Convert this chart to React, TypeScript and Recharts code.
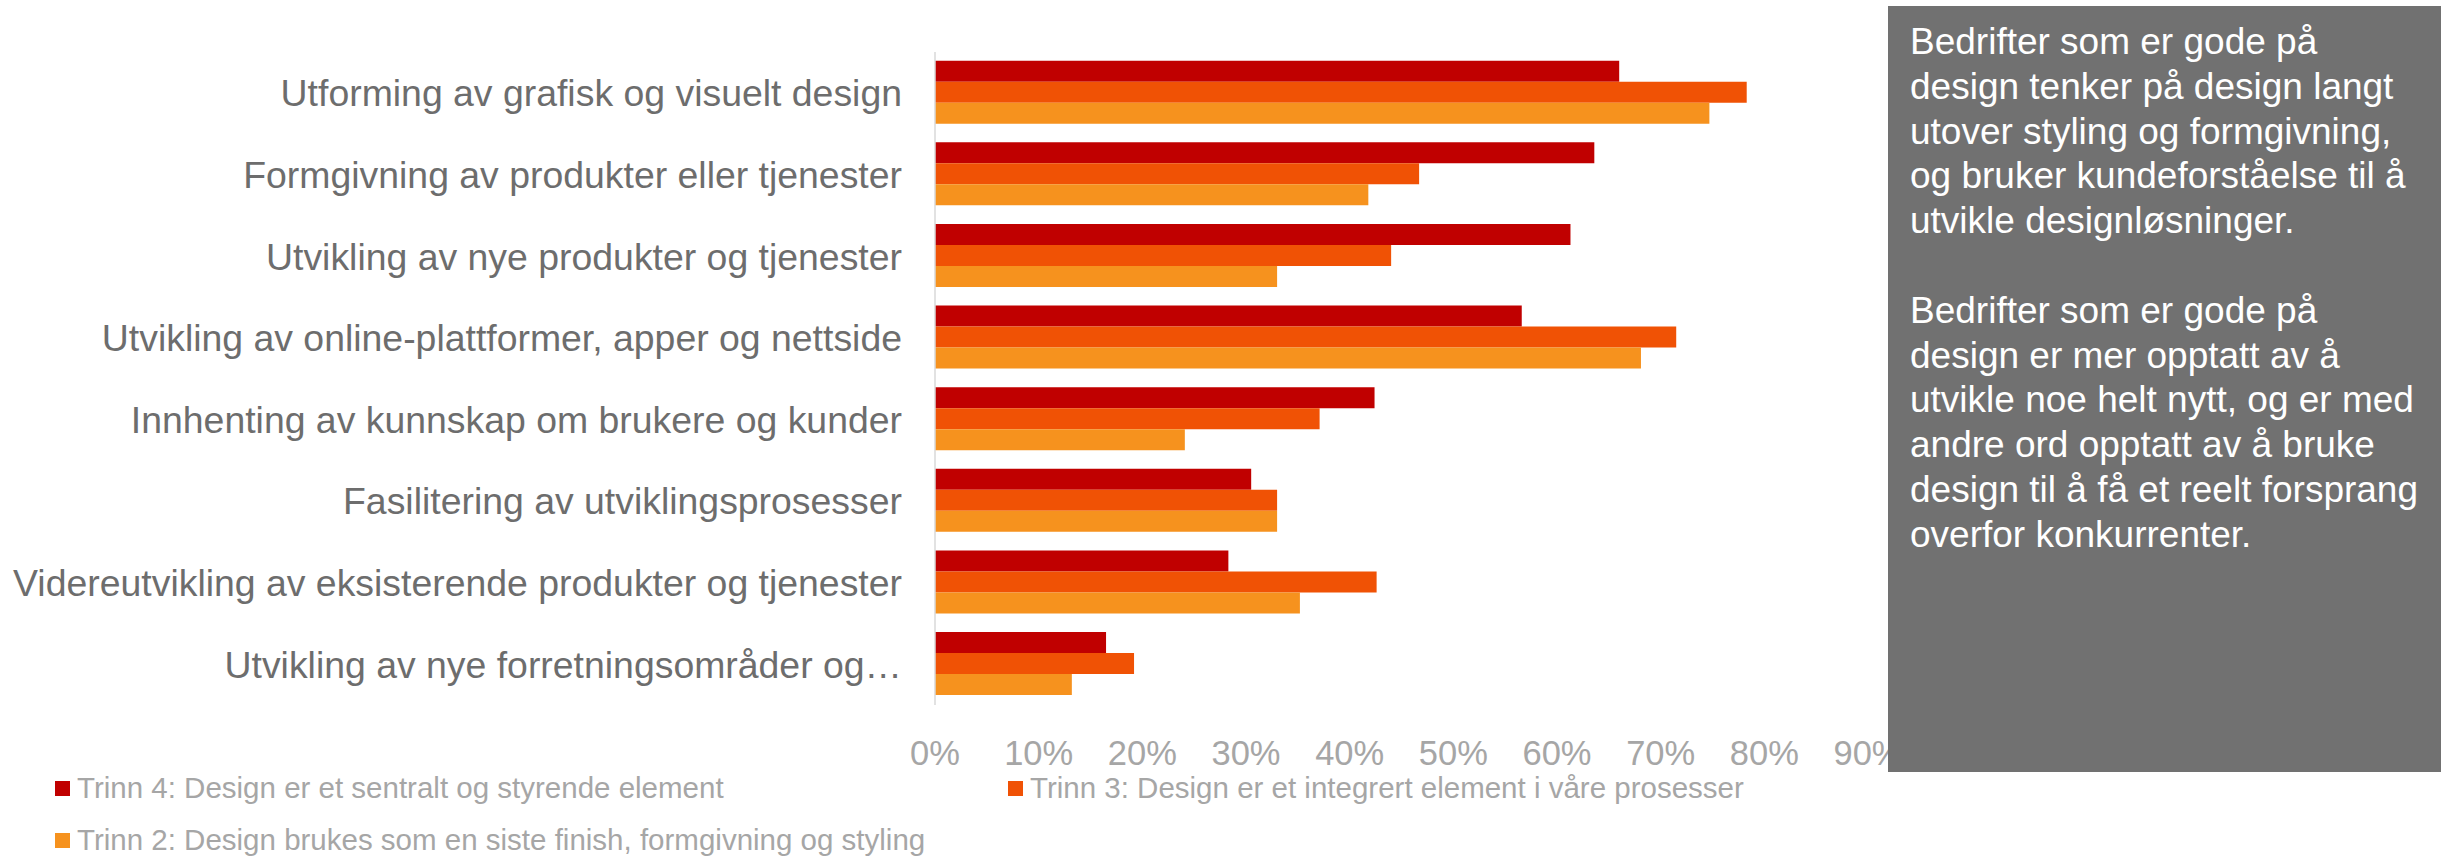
import React from "react";
import { BarChart, Bar, XAxis, YAxis, Legend } from "recharts";

const categories = [
  "Utforming av grafisk og visuelt design",
  "Formgivning av produkter eller tjenester",
  "Utvikling av nye produkter og tjenester",
  "Utvikling av online-plattformer, apper og nettside",
  "Innhenting av kunnskap om brukere og kunder",
  "Fasilitering av utviklingsprosesser",
  "Videreutvikling av eksisterende produkter og tjenester",
  "Utvikling av nye forretningsområder og…",
];

const trinn4 = [0.66, 0.636, 0.613, 0.566, 0.424, 0.305, 0.283, 0.165];
const trinn3 = [0.783, 0.467, 0.44, 0.715, 0.371, 0.33, 0.426, 0.192];
const trinn2 = [0.747, 0.418, 0.33, 0.681, 0.241, 0.33, 0.352, 0.132];

const seriesNames = [
  "Trinn 4: Design er et sentralt og styrende element",
  "Trinn 3: Design er et integrert element i våre prosesser",
  "Trinn 2: Design brukes som en siste finish, formgivning og styling",
];
const seriesColors = ["#C00000", "#F05205", "#F6921E"];

const xTicks = [0, 0.1, 0.2, 0.3, 0.4, 0.5, 0.6, 0.7, 0.8, 0.9];

const boxParagraphs = [
  [
    "Bedrifter som er gode på",
    "design tenker på design langt",
    "utover styling og formgivning,",
    "og bruker kundeforståelse til å",
    "utvikle designløsninger.",
  ],
  [
    "Bedrifter som er gode på",
    "design er mer opptatt av å",
    "utvikle noe helt nytt, og er med",
    "andre ord opptatt av å bruke",
    "design til å få et reelt forsprang",
    "overfor konkurrenter.",
  ],
];

const data = categories.map((c, i) => ({
  name: c,
  t4: trinn4[i],
  t3: trinn3[i],
  t2: trinn2[i],
}));

const FONT = "'Liberation Sans', Arial, sans-serif";

const YTick = (props: any) => {
  const { x, y, payload } = props;
  return (
    <text
      x={x - 33}
      y={y}
      dy="0.36em"
      textAnchor="end"
      fill="#6d6d6d"
      fontSize={37.4}
      fontFamily={FONT}
    >
      {payload.value}
    </text>
  );
};

const XTick = (props: any) => {
  const { x, y, payload } = props;
  return (
    <text
      x={x}
      y={y}
      dy={60}
      textAnchor="middle"
      fill="#a6a6a6"
      fontSize={34.5}
      fontFamily={FONT}
    >
      {Math.round(payload.value * 100) + "%"}
    </text>
  );
};

const renderLegend = (props: any) => {
  const { payload } = props;
  const items = seriesNames.map((name, idx) => {
    const found = (payload || []).find((p: any) => p.value === name);
    return { value: name, color: found ? found.color : seriesColors[idx] };
  });
  return (
    <div
      style={{
        display: "grid",
        gridTemplateColumns: "953px 860px",
        paddingLeft: 55,
        fontFamily: FONT,
        fontSize: 29.5,
        color: "#a6a6a6",
      }}
    >
      {items.map((p, i) => (
        <div
          key={i}
          style={{
            height: 52,
            display: "flex",
            alignItems: "center",
            whiteSpace: "nowrap",
          }}
        >
          <span
            style={{
              display: "inline-block",
              width: 15,
              height: 15,
              background: p.color,
              marginRight: 7,
            }}
          />
          <span>{p.value}</span>
        </div>
      ))}
    </div>
  );
};

export default function App() {
  return (
    <div
      style={{
        position: "absolute",
        left: 0,
        top: 0,
        width: 2441,
        height: 856,
        background: "#ffffff",
        overflow: "hidden",
      }}
    >
      <BarChart
        width={1888}
        height={856}
        data={data}
        layout="vertical"
        margin={{ top: 52, right: 20, bottom: 111, left: 0 }}
        barCategoryGap="10.6%"
        barGap={0}
      >
        <XAxis
          type="number"
          domain={[0, 0.9]}
          ticks={xTicks}
          axisLine={false}
          tickLine={false}
          tickSize={0}
          tickMargin={0}
          height={40}
          tick={<XTick />}
          interval={0}
        />
        <YAxis
          type="category"
          dataKey="name"
          width={935}
          axisLine={{ stroke: "#d9d9d9", strokeWidth: 1.5 }}
          tickLine={false}
          tickSize={0}
          tickMargin={0}
          tick={<YTick />}
          interval={0}
        />
        <Legend
          layout="horizontal"
          verticalAlign="middle"
          align="center"
          wrapperStyle={{ top: 762, left: 0, width: 1888 }}
          content={renderLegend}
        />
        <Bar dataKey="t4" name={seriesNames[0]} fill={seriesColors[0]} isAnimationActive={false} />
        <Bar dataKey="t3" name={seriesNames[1]} fill={seriesColors[1]} isAnimationActive={false} />
        <Bar dataKey="t2" name={seriesNames[2]} fill={seriesColors[2]} isAnimationActive={false} />
      </BarChart>
      <div
        style={{
          position: "absolute",
          left: 1888,
          top: 6,
          width: 553,
          height: 766,
          background: "#717171",
          color: "#ffffff",
          fontFamily: FONT,
          fontSize: 37,
          lineHeight: "44.8px",
          paddingLeft: 22,
          paddingTop: 14,
          boxSizing: "border-box",
          whiteSpace: "nowrap",
          zIndex: 10,
        }}
      >
        {boxParagraphs.map((para, pi) => (
          <div key={pi} style={{ marginBottom: pi === 0 ? 44.8 : 0 }}>
            {para.map((line, li) => (
              <div key={li}>{line}</div>
            ))}
          </div>
        ))}
      </div>
    </div>
  );
}
